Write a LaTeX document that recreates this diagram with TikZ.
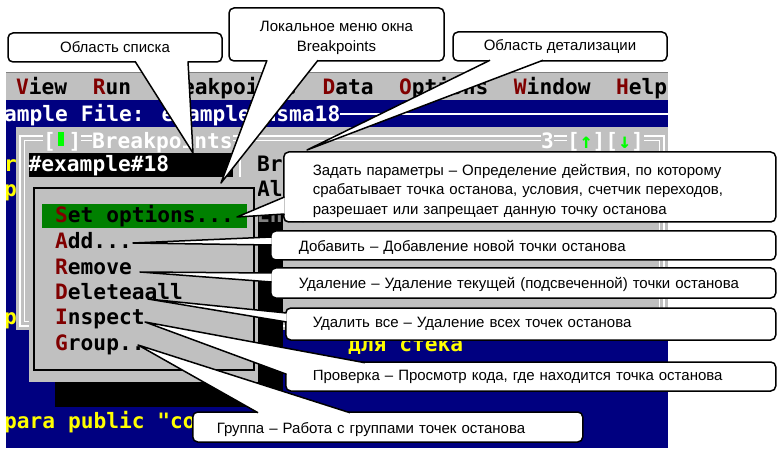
\documentclass[tikz,border=0pt]{standalone}
\usepackage{fontspec}
\setmainfont{Liberation Sans}
\newfontfamily\dosfont{DejaVu Sans Mono}
\usetikzlibrary{calc, positioning}
\definecolor{tdblue}{HTML}{000080}
\definecolor{tdgray}{HTML}{C0C0C0}
\definecolor{tddark}{HTML}{808080}
\definecolor{tdred}{HTML}{800000}
\definecolor{tdgreen}{HTML}{008000}
\definecolor{tdlime}{HTML}{00FF00}
\definecolor{tdyellow}{HTML}{FFFF00}

\begin{document}
\begin{tikzpicture}[x=1pt, y=-1pt,
    dos/.style={font=\dosfont\bfseries\fontsize{21.2}{25}\selectfont, inner sep=0pt, anchor=base west},
    callout/.style={draw, line width=1.5pt, fill=white, rounded corners=5pt, inner ysep=0pt, font=\fontsize{15}{19.5}\selectfont},
    callwedge/.style={draw, line width=1.5pt, fill=white, line join=round}]

    \useasboundingbox (0,0) rectangle (784,454);

    % screen %
    \begin{scope}
      \clip (6,72) rectangle (668,448);
      \fill[tdblue] (6,72) rectangle (668,448);
      \fill[tdgray] (6,72) rectangle (668,100);
      \draw[tddark, line width=1pt] (6,73) -- (668,73);
      \node[dos] (mbar) at (16,95) {\textcolor{tdred}{V}iew~~\textcolor{tdred}{R}un~~\textcolor{tdred}{B}reakpoints~~\textcolor{tdred}{D}ata~~\textcolor{tdred}{O}ptions~~\textcolor{tdred}{W}indow~~\textcolor{tdred}{H}elp};
      \node[dos, white] (fname) at (4,122) {ample File: example.asma18};
      \draw[white, line width=1.5pt] (340,114) -- (668,114);
      \node[dos, tdyellow] (yr) at (4,172) {r};
      \node[dos, tdyellow] (yp) at (4,197) {p};
      \node[dos, tdyellow] (yq) at (4,324) {p};
      \node[dos, tdyellow] (ycode) at (4,428) {para public "co};
      \node[dos, tdyellow] (ystack) at (348,351) {для стека};

      % breakpoints window %
      \fill[tdgray] (16,127) rectangle (668,330);
      \draw[white, line width=1.3pt] (20,136) rectangle (664,326);
      \draw[white, line width=1.3pt] (24.5,140.5) rectangle (659.5,321.5);
      \node[dos, white, fill=tdgray] (wclose) at (43,149) {[~]};
      \fill[tdlime] (58,132) rectangle (64,146);
      \node[dos, white, fill=tdgray] (wtitle) at (92,149) {Breakpoints};
      \node[dos, white, fill=tdgray] (wnum) at (541,149) {3};
      \node[dos, white, fill=tdgray] (wzoom) at (567,149) {[\textcolor{tdlime}{↑}][\textcolor{tdlime}{↓}]};
      \fill[black] (29,153) rectangle (233,177);
      \node[dos, white] (blist) at (28.5,172) {\#example\#18};
      \draw[white, line width=2pt] (240,156) -- (240,177);
      \node[dos] (dBr) at (257,172) {Br};
      \node[dos] (dAl) at (257,197) {Al};

      % local menu %
      \fill[black] (55,208) rectangle (283,407);
      \node[dos, tddark] (dEn) at (257,223) {Enab};
      \fill[tdgray] (29,183) rectangle (258,382);
      \draw[line width=2.5pt] (34,188) rectangle (254,370);
      \fill[tdgreen] (42,204) rectangle (247,228);
      \node[dos] (iSet) at (55,223) {\textcolor{tdred}{S}et options...};
      \node[dos] (iAdd) at (55,248.5) {\textcolor{tdred}{A}dd...};
      \node[dos] (iRem) at (55,274) {\textcolor{tdred}{R}emove};
      \node[dos] (iDel) at (55,299) {\textcolor{tdred}{D}eleteaall};
      \node[dos] (iIns) at (55,324.5) {\textcolor{tdred}{I}nspect};
      \node[dos] (iGrp) at (55,350) {\textcolor{tdred}{G}roup..};
    \end{scope}

    % tips %
    \coordinate (tList) at (193,153);
    \coordinate (tMenu) at (221,183);
    \coordinate (tDetail) at (307,150);
    \coordinate (tSet) at (237,217);
    \coordinate (tAdd) at (133,243);
    \coordinate (tRem) at (140,272);
    \coordinate (tDel) at (148,299);
    \coordinate (tIns) at (145,322);
    \coordinate (tGrp) at (138,345);

    % callouts %
    \node[callout, minimum width=214pt, minimum height=29pt, align=center] (cList) at (115,47.5) {Область списка};
    \path[callwedge] ($(cList.south)+(20,-1.5)$) -- (tList) -- ($(cList.south)+(73,-1.5)$);

    \node[callout, minimum width=215pt, minimum height=53pt, align=center] (cMenu) at (336.5,34.5) {\rule{0pt}{17pt}Локальное меню окна\\Breakpoints};
    \path[callwedge] ($(cMenu.south)+(-69.5,-1.5)$) -- (tMenu) -- ($(cMenu.south)+(-18.5,-1.5)$);

    \node[callout, minimum width=214pt, minimum height=29pt, align=center] (cDetail) at (560,46.5) {Область детализации};
    \path[callwedge] ($(cDetail.south)+(-70,-1.5)$) -- (tDetail) -- ($(cDetail.south)+(-17,-1.5)$);

    \node[callout, anchor=west, minimum height=70pt, inner xsep=29pt, text width=434pt, align=left] (cSet) at (283,187) {\rule{0pt}{19pt}Задать параметры – Определение действия, по которому\\срабатывает точка останова, условия, счетчик переходов,\\разрешает или запрещает данную точку останова};
    \path[callwedge] ($(cSet.west)+(1.5,10)$) -- (tSet) -- ($(cSet.west)+(1.5,27)$);

    \node[callout, anchor=west, minimum height=29pt, inner xsep=28pt, text width=449pt, align=left] (cAdd) at (270,245.5) {\rule{0pt}{14pt}Добавить – Добавление новой точки останова};
    \path[callwedge] ($(cAdd.west)+(1.5,-8.5)$) -- (tAdd) -- ($(cAdd.west)+(1.5,-0.5)$);

    \node[callout, anchor=west, minimum height=30pt, inner xsep=28pt, text width=449pt, align=left] (cRem) at (270,283) {\rule{0pt}{15pt}Удаление – Удаление текущей (подсвеченной) точки останова};
    \path[callwedge] ($(cRem.west)+(1.5,-10)$) -- (tRem) -- ($(cRem.west)+(1.5,-1)$);

    \node[callout, anchor=west, minimum height=32pt, inner xsep=27pt, text width=436pt, align=left] (cAll) at (285,324) {Удалить все – Удаление всех точек останова};
    \path[callwedge] ($(cAll.west)+(1.5,-11)$) -- (tDel) -- ($(cAll.west)+(1.5,-2)$);

    \node[callout, anchor=west, minimum height=30pt, inner xsep=24pt, text width=342pt, align=left] (cGrp) at (192,427) {\rule{0pt}{16pt}Группа – Работа с группами точек останова};
    \path[callwedge] ($(cGrp.north west)+(66,1.5)$) -- (tGrp) -- ($(cGrp.north west)+(158,1.5)$);

    \node[callout, anchor=west, minimum height=29pt, inner xsep=27pt, text width=436pt, align=left] (cIns) at (285,376.5) {Проверка – Просмотр кода, где находится точка останова};
    \path[callwedge] ($(cIns.north west)+(80,1.5)$) -- (tIns) -- ($(cIns.north west)+(1.5,13)$);
\end{tikzpicture}
\end{document}
